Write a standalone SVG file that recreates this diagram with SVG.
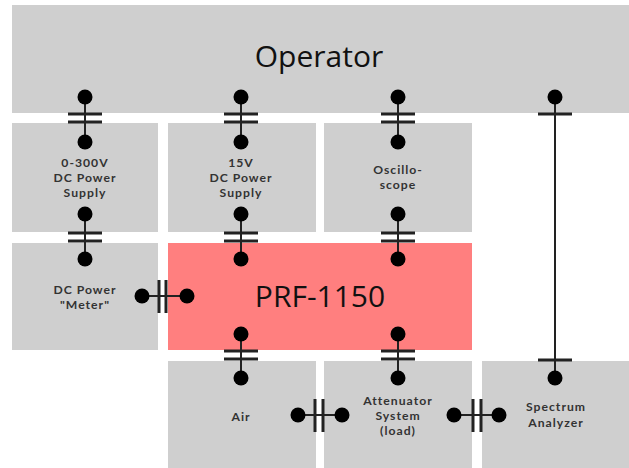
<svg xmlns="http://www.w3.org/2000/svg" width="629" height="468" viewBox="0 0 629 468">
<style>
.box{fill:#cfcfcf}
.red{fill:#ff7f7f}
.lbl{font-family:Lato,"Liberation Sans",sans-serif;font-size:12.2px;font-weight:700;fill:#333;text-anchor:middle;letter-spacing:1px}
.big{font-family:"Open Sans",Lato,"Noto Sans",sans-serif;font-size:30px;font-weight:500;fill:#111;text-anchor:middle}
.ln{stroke:#222;stroke-width:2;fill:none}
.bar{stroke:#222;stroke-width:3;fill:none}
.dot{fill:#000}
</style>
<rect x="0" y="0" width="629" height="468" fill="#fff"/>
<g id="operator"><rect class="box" x="12" y="5" width="617" height="108"/><text class="big" x="319" y="67">Operator</text></g>
<g id="dc300"><rect class="box" x="12" y="123" width="146" height="109"/><text class="lbl" x="85" y="167">0-300V</text><text class="lbl" x="85" y="182">DC Power</text><text class="lbl" x="85" y="197">Supply</text></g>
<g id="dc15"><rect class="box" x="168" y="123" width="148" height="109"/><text class="lbl" x="241" y="167">15V</text><text class="lbl" x="241" y="182">DC Power</text><text class="lbl" x="241" y="197">Supply</text></g>
<g id="scope"><rect class="box" x="324" y="123" width="148" height="109"/><text class="lbl" x="398" y="174">Oscillo-</text><text class="lbl" x="398" y="189">scope</text></g>
<g id="meter"><rect class="box" x="12" y="243" width="146" height="107"/><text class="lbl" x="85" y="294">DC Power</text><text class="lbl" x="85" y="309">"Meter"</text></g>
<g id="prf"><rect class="red" x="168" y="243" width="304" height="107"/><text class="big" x="320" y="307">PRF-1150</text></g>
<g id="air"><rect class="box" x="168" y="361" width="148" height="107"/><text class="lbl" x="241" y="421">Air</text></g>
<g id="atten"><rect class="box" x="324" y="361" width="148" height="107"/><text class="lbl" x="398" y="405">Attenuator</text><text class="lbl" x="398" y="420">System</text><text class="lbl" x="398" y="435">(load)</text></g>
<g id="spectrum"><rect class="box" x="482" y="361" width="147" height="107"/><text class="lbl" x="556" y="411">Spectrum</text><text class="lbl" x="556" y="427">Analyzer</text></g>
<g id="connectors">
<g><line class="ln" x1="85" y1="97" x2="85" y2="142"/><line class="bar" x1="68" y1="114" x2="102" y2="114"/><line class="bar" x1="68" y1="122" x2="102" y2="122"/><circle class="dot" cx="85" cy="97" r="7.5"/><circle class="dot" cx="85" cy="142" r="7.5"/></g>
<g><line class="ln" x1="241" y1="97" x2="241" y2="142"/><line class="bar" x1="224" y1="114" x2="258" y2="114"/><line class="bar" x1="224" y1="122" x2="258" y2="122"/><circle class="dot" cx="241" cy="97" r="7.5"/><circle class="dot" cx="241" cy="142" r="7.5"/></g>
<g><line class="ln" x1="398" y1="97" x2="398" y2="142"/><line class="bar" x1="381" y1="114" x2="415" y2="114"/><line class="bar" x1="381" y1="122" x2="415" y2="122"/><circle class="dot" cx="398" cy="97" r="7.5"/><circle class="dot" cx="398" cy="142" r="7.5"/></g>
<g><line class="ln" x1="85" y1="214" x2="85" y2="259"/><line class="bar" x1="68" y1="233" x2="102" y2="233"/><line class="bar" x1="68" y1="241" x2="102" y2="241"/><circle class="dot" cx="85" cy="214" r="7.5"/><circle class="dot" cx="85" cy="259" r="7.5"/></g>
<g><line class="ln" x1="241" y1="214" x2="241" y2="259"/><line class="bar" x1="224" y1="233" x2="258" y2="233"/><line class="bar" x1="224" y1="241" x2="258" y2="241"/><circle class="dot" cx="241" cy="214" r="7.5"/><circle class="dot" cx="241" cy="259" r="7.5"/></g>
<g><line class="ln" x1="398" y1="214" x2="398" y2="259"/><line class="bar" x1="381" y1="233" x2="415" y2="233"/><line class="bar" x1="381" y1="241" x2="415" y2="241"/><circle class="dot" cx="398" cy="214" r="7.5"/><circle class="dot" cx="398" cy="259" r="7.5"/></g>
<g><line class="ln" x1="241" y1="334" x2="241" y2="378"/><line class="bar" x1="224" y1="351" x2="258" y2="351"/><line class="bar" x1="224" y1="359" x2="258" y2="359"/><circle class="dot" cx="241" cy="334" r="7.5"/><circle class="dot" cx="241" cy="378" r="7.5"/></g>
<g><line class="ln" x1="398" y1="334" x2="398" y2="378"/><line class="bar" x1="381" y1="351" x2="415" y2="351"/><line class="bar" x1="381" y1="359" x2="415" y2="359"/><circle class="dot" cx="398" cy="334" r="7.5"/><circle class="dot" cx="398" cy="378" r="7.5"/></g>
<g><line class="ln" x1="555" y1="97" x2="555" y2="378"/><line class="bar" x1="538" y1="114" x2="572" y2="114"/><line class="bar" x1="538" y1="360" x2="572" y2="360"/><circle class="dot" cx="555" cy="97" r="7.5"/><circle class="dot" cx="555" cy="378" r="7.5"/></g>
<g><line class="ln" x1="142" y1="296" x2="187" y2="296"/><line class="bar" x1="159" y1="280" x2="159" y2="313"/><line class="bar" x1="166" y1="280" x2="166" y2="313"/><circle class="dot" cx="142" cy="296" r="7.5"/><circle class="dot" cx="187" cy="296" r="7.5"/></g>
<g><line class="ln" x1="298" y1="415" x2="342" y2="415"/><line class="bar" x1="315" y1="399" x2="315" y2="432"/><line class="bar" x1="323" y1="399" x2="323" y2="432"/><circle class="dot" cx="298" cy="415" r="7.5"/><circle class="dot" cx="342" cy="415" r="7.5"/></g>
<g><line class="ln" x1="454" y1="415" x2="499" y2="415"/><line class="bar" x1="473" y1="399" x2="473" y2="432"/><line class="bar" x1="481" y1="399" x2="481" y2="432"/><circle class="dot" cx="454" cy="415" r="7.5"/><circle class="dot" cx="499" cy="415" r="7.5"/></g>
</g>
</svg>
